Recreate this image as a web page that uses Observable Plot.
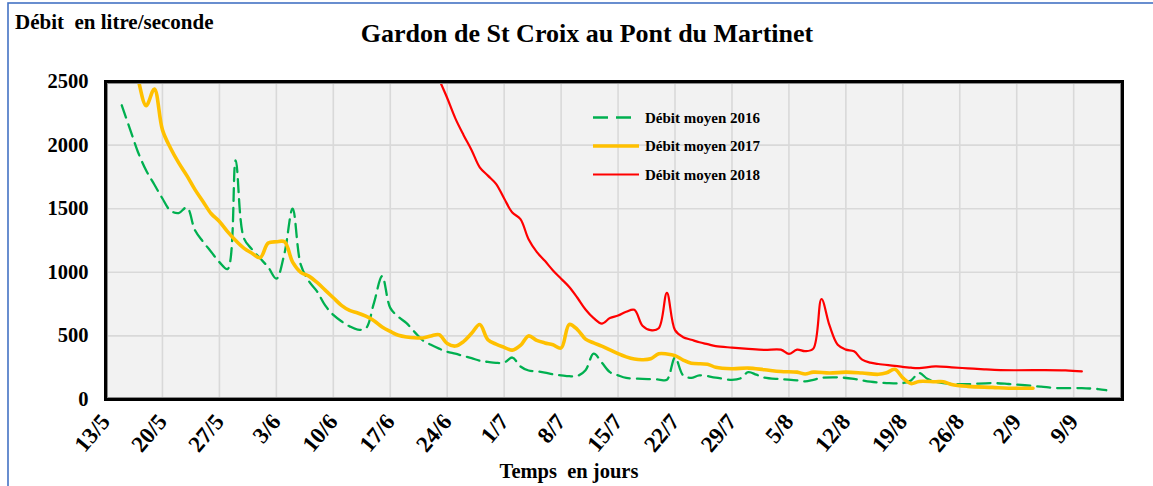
<!DOCTYPE html>
<html>
<head>
<meta charset="utf-8">
<script src="https://cdn.jsdelivr.net/npm/d3@7"></script>
<script src="https://cdn.jsdelivr.net/npm/@observablehq/plot@0.6"></script>
<style>
  html, body { margin: 0; padding: 0; background: #fff; }
  #chart svg { display: block; }
</style>
</head>
<body>
<div id="chart"></div>
<script>
// ---- Data ----
const chartTitle = "Gardon de St Croix au Pont du Martinet";
const yTitle = "Débit\u00A0 en litre/seconde";
const xTitle = "Temps\u00A0 en jours";

const xTickLabels = ["13/5","20/5","27/5","3/6","10/6","17/6","24/6","1/7","8/7","15/7","22/7","29/7","5/8","12/8","19/8","26/8","2/9","9/9"];
const xDomainLabels = ["13/5", "15/9"];
const yTicks = [0, 500, 1000, 1500, 2000, 2500];

const seriesNames = ["Débit moyen 2016", "Débit moyen 2017", "Débit moyen 2018"];

const dates2016 = ["15/5","16/5","17/5","18/5","19/5","20/5","21/5","22/5","23/5","24/5","25/5","26/5","27/5","28/5","29/5","30/5","31/5",
  "1/6","2/6","3/6","4/6","5/6","6/6","7/6","8/6","9/6","10/6","11/6","12/6","13/6","14/6","15/6","16/6","17/6","18/6","19/6","20/6",
  "21/6","22/6","23/6","24/6","25/6","26/6","27/6","28/6","29/6","30/6",
  "1/7","2/7","3/7","4/7","5/7","6/7","7/7","8/7","9/7","10/7","11/7","12/7","13/7","14/7","15/7","16/7","18/7","20/7","21/7","22/7",
  "23/7","24/7","25/7","27/7","29/7","30/7","31/7",
  "1/8","2/8","4/8","6/8","7/8","8/8","9/8","11/8","13/8","15/8","17/8","19/8","20/8","21/8","22/8","23/8","25/8","27/8","30/8",
  "1/9","3/9","5/9","7/9","10/9","12/9","13/9"];
const values2016 = [2313,2128,1944,1800,1690,1580,1484,1466,1510,1330,1240,1160,1080,1025,1880,1270,1181,
  1110,1040,950,1150,1500,1060,930,850,740,665,615,575,550,560,760,970,720,650,600,530,
  465,430,400,375,360,342,325,305,295,288,
  290,330,260,228,222,212,198,190,183,185,230,360,290,215,190,170,162,157,155,330,
  190,170,190,172,155,165,215,
  195,172,160,150,142,155,170,174,162,140,129,129,150,208,163,140,122,121,129,
  122,112,101,90,89,82,73];

const dates2017 = ["16/5","17/5","18/5","19/5","20/5","21/5","22/5","23/5","24/5","25/5","26/5","27/5","28/5","29/5","30/5","31/5",
  "1/6","2/6","3/6","4/6","5/6","6/6","7/6","8/6","9/6","10/6","11/6","12/6","13/6","14/6","15/6","16/6","17/6","18/6","19/6",
  "21/6","22/6","23/6","24/6","25/6","26/6","27/6","28/6","29/6","30/6",
  "1/7","2/7","3/7","4/7","5/7","6/7","7/7","8/7","9/7","10/7","11/7","12/7","13/7","14/7","15/7","16/7","17/7","18/7","19/7","20/7",
  "21/7","22/7","23/7","24/7","26/7","27/7","29/7","31/7",
  "2/8","4/8","6/8","7/8","8/8","10/8","12/8","14/8","16/8","17/8","18/8","19/8","20/8","21/8","23/8","24/8","25/8","27/8","30/8",
  "1/9","4/9"];
const values2017 = [2800,2520,2310,2440,2120,1975,1860,1760,1650,1555,1460,1400,1320,1250,1190,1150,
  1115,1230,1240,1240,1080,1000,970,920,860,800,740,700,680,655,620,570,535,505,492,
  484,500,510,440,420,455,520,590,470,435,
  410,388,425,500,465,445,430,405,590,550,475,445,420,390,360,335,318,313,320,360,
  358,345,310,285,278,253,242,247,
  234,220,215,200,215,208,215,208,198,210,237,170,125,142,140,140,118,103,95,
  89,89];

const dates2018 = ["22/6","23/6","24/6","25/6","26/6","27/6","28/6","29/6","30/6",
  "1/7","2/7","3/7","4/7","5/7","6/7","7/7","8/7","9/7","10/7","11/7","12/7","13/7","14/7","15/7","16/7","17/7","18/7","19/7","20/7",
  "21/7","22/7","23/7","24/7","25/7","26/7","27/7","29/7","31/7",
  "2/8","4/8","5/8","6/8","7/8","8/8","9/8","10/8","11/8","12/8","13/8","14/8","15/8","16/8","18/8","20/8","21/8","23/8","25/8",
  "27/8","29/8","31/8","2/9","5/9","8/9","10/9"];
const values2018 = [2700,2520,2370,2210,2080,1960,1825,1760,1695,
  1580,1470,1418,1260,1160,1090,1015,950,885,800,708,640,597,640,660,690,705,580,545,560,
  839,545,490,470,450,435,420,408,398,
  390,392,358,392,380,400,790,580,430,392,379,313,290,279,265,250,247,260,253,
  245,237,231,230,231,229,221];

const colors = ["#00B050", "#FFC000", "#FF0000"];

// ---- Build table ----
const parse = s => { const [d, m] = s.split("/").map(Number); return new Date(Date.UTC(2018, m - 1, d)); };
const toRows = (dates, values, name) => dates.map((d, i) => ({date: parse(d), value: values[i], serie: name}));
const rows2016 = toRows(dates2016, values2016, seriesNames[0]);
const rows2017 = toRows(dates2017, values2017, seriesNames[1]);
const rows2018 = toRows(dates2018, values2018, seriesNames[2]);
const xTickDates = xTickLabels.map(parse);
const fmt = d => `${d.getUTCDate()}/${d.getUTCMonth() + 1}`;

const serif = "'Liberation Serif', 'Times New Roman', serif";

const chart = Plot.plot({
  width: 1153,
  height: 486,
  marginLeft: 105,
  marginRight: 31,
  marginTop: 81,
  marginBottom: 87,
  style: {fontFamily: serif, background: "#ffffff", overflow: "visible"},
  x: {type: "utc", domain: xDomainLabels.map(parse), label: null},
  y: {domain: [0, 2500], label: null},
  marks: [
    Plot.frame({fill: "#F2F2F2"}),
    Plot.gridX(xTickDates, {stroke: "#D9D9D9", strokeOpacity: 1, strokeWidth: 1.6}),
    Plot.gridY(yTicks, {stroke: "#D9D9D9", strokeOpacity: 1, strokeWidth: 1.6}),
    Plot.lineY(rows2016, {x: "date", y: "value", stroke: colors[0], strokeWidth: 2.3, strokeDasharray: "13,7", curve: "catmull-rom", clip: true}),
    Plot.lineY(rows2017, {x: "date", y: "value", stroke: colors[1], strokeWidth: 3.6, curve: "catmull-rom", clip: true}),
    Plot.lineY(rows2018, {x: "date", y: "value", stroke: colors[2], strokeWidth: 2.2, curve: "catmull-rom", clip: true}),
    Plot.frame({stroke: "#000", strokeWidth: 3}),
    Plot.frame({stroke: "#8c8c8c", strokeWidth: 1, inset: 2}),
    Plot.axisY(yTicks, {tickSize: 0, tickPadding: 17, tickFormat: d => String(d), fontSize: 20.5, fontWeight: "bold", fill: "#000", label: null}),
    Plot.axisX(xTickDates, {tickSize: 0, tickPadding: 18, tickRotate: -50, tickFormat: fmt, fontSize: 23, fontWeight: "bold", fill: "#000", label: null})
  ]
});

document.getElementById("chart").appendChild(chart);

// ---- Titles, legend and outer border ----
const svg = d3.select(chart);
svg.append("rect")
  .attr("x", 8).attr("y", 3).attr("width", 1170).attr("height", 520)
  .attr("fill", "none").attr("stroke", "#4472C4").attr("stroke-width", 1.6);

svg.append("text")
  .attr("x", 15).attr("y", 29).attr("text-anchor", "start")
  .attr("font-family", serif).attr("font-weight", "bold").attr("font-size", 21)
  .attr("fill", "#000").text(yTitle);

svg.append("text")
  .attr("x", 587).attr("y", 42).attr("text-anchor", "middle")
  .attr("font-family", serif).attr("font-weight", "bold").attr("font-size", 26)
  .attr("fill", "#000").text(chartTitle);

svg.append("text")
  .attr("x", 569).attr("y", 478).attr("text-anchor", "middle")
  .attr("font-family", serif).attr("font-weight", "bold").attr("font-size", 20.5)
  .attr("fill", "#000").text(xTitle);

const legendY = [117.5, 146, 174.5];
const legendStyles = [
  {w: 2.3, dash: "15,8"},
  {w: 3.6, dash: null},
  {w: 2.2, dash: null}
];
const lg = svg.append("g");
seriesNames.forEach((name, i) => {
  const line = lg.append("line")
    .attr("x1", 593).attr("x2", 639).attr("y1", legendY[i]).attr("y2", legendY[i])
    .attr("stroke", colors[i]).attr("stroke-width", legendStyles[i].w);
  if (legendStyles[i].dash) line.attr("stroke-dasharray", legendStyles[i].dash);
  lg.append("text")
    .attr("x", 645).attr("y", legendY[i]).attr("dy", "0.35em").attr("text-anchor", "start")
    .attr("font-family", serif).attr("font-weight", "bold").attr("font-size", 15)
    .attr("fill", "#000").text(name);
});
</script>
</body>
</html>
